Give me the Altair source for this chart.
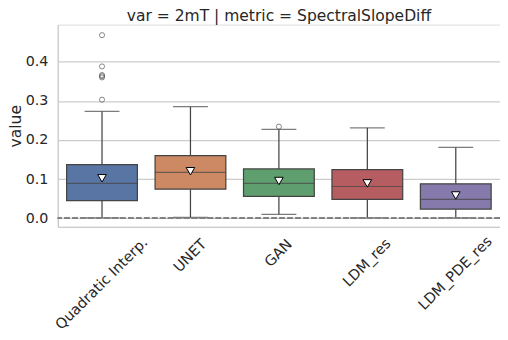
import altair as alt
import pandas as pd

models = ["Quadratic Interp.", "UNET", "GAN", "LDM_res", "LDM_PDE_res"]
colors = ["#5975a4", "#cc8963", "#5f9e6e", "#b55d60", "#857aab"]
q1 = [0.045, 0.074, 0.056, 0.048, 0.023]
median = [0.089, 0.117, 0.089, 0.081, 0.048]
q3 = [0.137, 0.160, 0.126, 0.124, 0.088]
whisk_lo = [0.001, 0.002, 0.010, 0.001, 0.001]
whisk_hi = [0.273, 0.285, 0.227, 0.231, 0.181]
means = [0.102, 0.120, 0.095, 0.089, 0.058]
out_model = ["Quadratic Interp."] * 6 + ["GAN"]
out_value = [0.468, 0.388, 0.366, 0.363, 0.360, 0.303, 0.234]

# per-label vertical offsets for the rotated tick labels
label_pad = [57, 29, 26.5, 36, 46.5]

FONT = "DejaVu Sans"
LINE = "#444444"
TXT = "#262626"

df = pd.DataFrame({"model": models, "q1": q1, "median": median, "q3": q3,
                   "lo": whisk_lo, "hi": whisk_hi, "mean": means})
df_out = pd.DataFrame({"model": out_model, "value": out_value})

x_scale = alt.Scale(domain=models, paddingInner=0.2, paddingOuter=0.1)
y_scale = alt.Scale(domain=[-0.022, 0.495], nice=False, zero=False)

conds = [{"test": f"datum.value === '{m}'", "value": p} for m, p in zip(models[1:], label_pad[1:])]

x_enc = alt.X("model:N", sort=models, scale=x_scale,
              axis=alt.Axis(title=None, labelAngle=-45, labelAlign="center",
                            labelBaseline="middle", ticks=False, tickSize=0,
                            labelPadding={"condition": conds, "value": label_pad[0]},
                            labelFontSize=14.5, labelColor=TXT, labelFont=FONT,
                            domainColor="#cccccc", domainWidth=1.25, grid=False))
y_axis = alt.Axis(title="value", values=[0, 0.1, 0.2, 0.3, 0.4], format=".1f",
                  ticks=False, tickSize=0, labelPadding=10, labelFontSize=14.3,
                  labelColor=TXT, labelFont=FONT, titleFont=FONT, titleFontSize=15.6,
                  titleFontWeight="normal", titleColor=TXT, titlePadding=2,
                  domainColor="#cccccc", domainWidth=1.25, gridColor="#cccccc",
                  gridWidth=1.2)

base = alt.Chart(df)

lower = base.mark_rule(color=LINE, strokeWidth=1.25).encode(
    x=x_enc, y=alt.Y("lo:Q", scale=y_scale, axis=y_axis), y2="q1:Q")
upper = base.mark_rule(color=LINE, strokeWidth=1.25).encode(
    x=x_enc, y=alt.Y("q3:Q", scale=y_scale), y2="hi:Q")
cap_hi = base.mark_tick(color=LINE, size=35, thickness=1.25).encode(
    x=x_enc, y=alt.Y("hi:Q", scale=y_scale))
cap_lo = base.mark_tick(color=LINE, size=35, thickness=1.25).encode(
    x=x_enc, y=alt.Y("lo:Q", scale=y_scale))
box = base.mark_bar(stroke=LINE, strokeWidth=1.25).encode(
    x=x_enc, y=alt.Y("q1:Q", scale=y_scale), y2="q3:Q",
    color=alt.Color("model:N", scale=alt.Scale(domain=models, range=colors), legend=None))
med = base.mark_tick(color=LINE, size=71, thickness=1.25).encode(
    x=x_enc, y=alt.Y("median:Q", scale=y_scale))
fliers = alt.Chart(df_out).mark_point(shape="circle", filled=False, color="#555555",
                                       size=26, strokeWidth=1).encode(
    x=x_enc, y=alt.Y("value:Q", scale=y_scale))
zero = alt.Chart(df).mark_rule(color="#808080", strokeWidth=1.5, strokeDash=[5.5, 2.5]).encode(
    y=alt.datum(0, scale=y_scale))
mean_pt = base.mark_point(shape="triangle-down", filled=True, fill="white", stroke="black",
                          strokeWidth=1, size=75, opacity=1).encode(
    x=x_enc, y=alt.Y("mean:Q", scale=y_scale))

chart = alt.layer(lower, upper, cap_hi, cap_lo, box, med, fliers, zero, mean_pt).properties(
    width=444, height=203,
    title=alt.TitleParams("var = 2mT | metric = SpectralSlopeDiff", fontSize=15.6,
                          fontWeight="normal", color=TXT, font=FONT, offset=0),
    autosize=alt.AutoSizeParams(type="none"),
    padding={"left": 50, "top": 16, "right": 0, "bottom": 110},
).configure_view(stroke=None).configure(font=FONT)

chart.save("out.html", embed_options={"renderer": "svg", "actions": False})
